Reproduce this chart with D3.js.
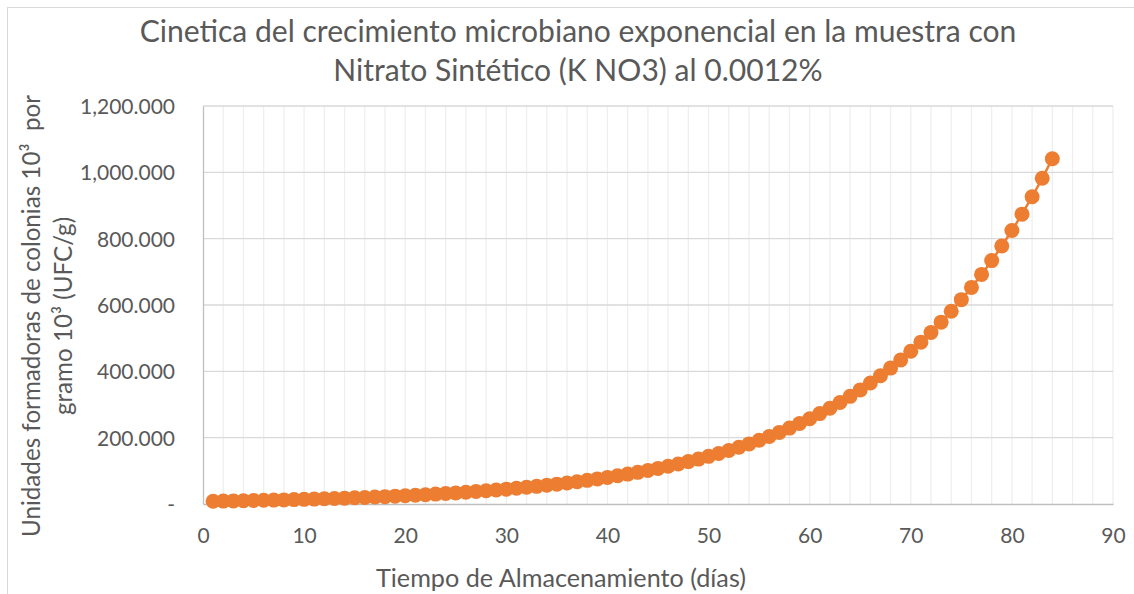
<!DOCTYPE html>
<html><head><meta charset="utf-8">
<script src="https://cdn.jsdelivr.net/npm/d3@7"></script>
<style>body{margin:0;background:#fff;} svg{display:block;} text{font-family:Lato,"Open Sans",sans-serif;fill:#595959;}</style>
</head><body><svg id="c" width="1134" height="594"></svg>
<script>
const titleLines = ["Cinetica del crecimiento microbiano exponencial en la muestra con", "Nitrato Sintético (K NO3) al 0.0012%"];
const xTitle = "Tiempo de Almacenamiento (días)";
const yTitleLines = ["Unidades formadoras de colonias 10³  por", "gramo 10³ (UFC/g)"];
const days = d3.range(1, 85);
const ufc = [8.3,8.8,9.3,9.8,10.4,11.1,11.7,12.4,13.2,14.0,
  14.8,15.7,16.6,17.6,18.7,19.8,21.0,22.2,23.6,25.0,
  26.5,28.1,29.8,31.6,33.4,35.5,37.6,39.8,42.2,44.8,
  47.4,50.3,53.3,56.5,59.9,63.5,67.3,71.3,75.6,80.2,
  85.0,90.1,95.5,101.2,107.3,113.7,120.5,127.8,135.4,143.6,
  152.2,161.3,171.0,181.2,192.1,203.6,215.8,228.8,242.5,257.1,
  272.5,288.9,306.2,324.6,344.0,364.7,386.5,409.7,434.3,460.4,
  488.0,517.3,548.3,581.2,616.1,653.1,692.2,733.8,777.8,824.5,
  873.9,926.4,982.0,1040.9];
const xTicks = [0,10,20,30,40,50,60,70,80,90];
const yTicks = [0,200,400,600,800,1000,1200];
const yTickLabels = ["-","200.000","400.000","600.000","800.000","1,000.000","1,200.000"];

const svg = d3.select("#c");
const L = 203, R = 1113, T = 106, B = 504;
const x = d3.scaleLinear().domain([0,90]).range([L,R]);
const y = d3.scaleLinear().domain([0,1200]).range([B,T]);

function fit(node, target){
  const w = node.getComputedTextLength();
  const fs = parseFloat(node.style.fontSize);
  node.style.fontSize = (fs*target/w).toFixed(2)+"px";
}

svg.append("rect").attr("x",7.5).attr("y",7.5).attr("width",1140).attr("height",600)
  .attr("fill","#fff").attr("stroke","#d9d9d9").attr("stroke-width",1);

svg.append("g").selectAll("line").data(d3.range(2,91,2)).join("line")
  .attr("x1",d=>x(d)).attr("x2",d=>x(d)).attr("y1",T).attr("y2",B)
  .attr("stroke","#efefef").attr("stroke-width",1.3);
svg.append("g").selectAll("line").data(yTicks.slice(1)).join("line")
  .attr("x1",L).attr("x2",R).attr("y1",d=>y(d)).attr("y2",d=>y(d))
  .attr("stroke","#d9d9d9").attr("stroke-width",1.3);

const xAxis = d3.axisBottom(x).tickValues(xTicks).tickSize(0).tickPadding(0).tickFormat(d3.format("d"));
const gx = svg.append("g").attr("transform",`translate(0,${B})`).call(xAxis);
gx.select(".domain").attr("stroke","#bfbfbf").attr("stroke-width",1.3);
gx.selectAll("text").style("font-size","20px").attr("fill","#595959").attr("dy",null).attr("y",39);

const yAxis = d3.axisLeft(y).tickValues(yTicks).tickSize(0).tickPadding(28).tickFormat((d,i)=>yTickLabels[i]);
const gy = svg.append("g").attr("transform",`translate(${L},0)`).call(yAxis);
gy.select(".domain").attr("stroke","#bfbfbf").attr("stroke-width",1.3);
gy.selectAll("text").style("font-size","20px").attr("fill","#595959").attr("dy","0.36em");
const big = gy.selectAll("text").filter((d,i)=>i===6).node();
fit(big, 95);
const yfs = big.style.fontSize;
gy.selectAll("text").style("font-size",yfs);
gx.selectAll("text").style("font-size",yfs);

const line = d3.line().x((d,i)=>x(days[i])).y(d=>y(d));
svg.append("path").datum(ufc).attr("d",line).attr("fill","none")
  .attr("stroke","#ED7D31").attr("stroke-width",2.5);
svg.append("g").selectAll("circle").data(ufc).join("circle")
  .attr("cx",(d,i)=>x(days[i])).attr("cy",d=>y(d)).attr("r",7.5)
  .attr("fill","#ED7D31");

const tt = svg.append("g").selectAll("text").data(titleLines).join("text")
  .attr("x",578).attr("y",(d,i)=>42+i*39).attr("text-anchor","middle")
  .style("font-size","25px").text(d=>d);
fit(tt.nodes()[0], 877);
tt.nodes()[1].style.fontSize = tt.nodes()[0].style.fontSize;

const xt = svg.append("text").attr("x",561).attr("y",587).attr("text-anchor","middle")
  .style("font-size","20px").text(xTitle);
fit(xt.node(), 370);

const yt = svg.append("g").selectAll("text").data(yTitleLines).join("text")
  .attr("transform",(d,i)=>`translate(${40+i*32},316) rotate(-90)`)
  .attr("text-anchor","middle").style("white-space","pre")
  .style("font-size","20px").text(d=>d);
fit(yt.nodes()[0], 442);
yt.nodes()[1].style.fontSize = yt.nodes()[0].style.fontSize;
</script></body></html>
